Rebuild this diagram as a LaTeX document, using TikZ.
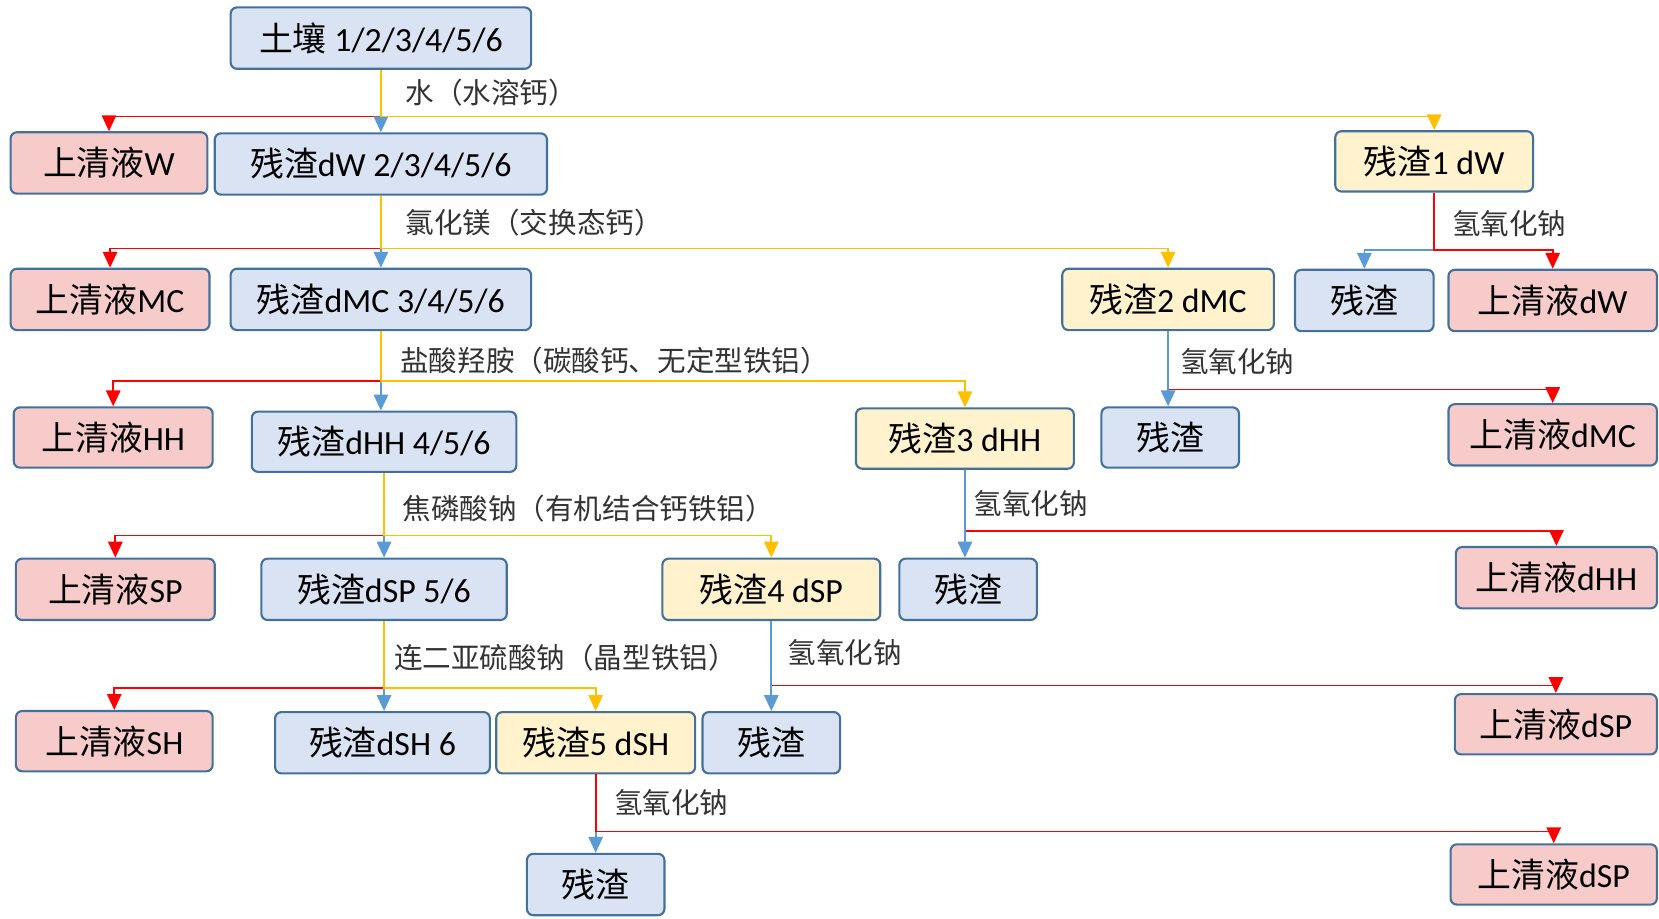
\documentclass[tikz,border=0pt]{standalone}
\usepackage{fontspec}
\setmainfont{Carlito}
\newfontfamily\cjkfont{Noto Sans CJK SC}
\newcommand\zhs[1]{{\cjkfont #1}}
\usetikzlibrary{arrows.meta}
\definecolor{bfill}{HTML}{DAE3F3}
\definecolor{pfill}{HTML}{F8CBCB}
\definecolor{yfill}{HTML}{FFF2CC}
\definecolor{bord}{HTML}{41719C}
\definecolor{lred}{HTML}{FF0000}
\definecolor{lblue}{HTML}{5B9BD5}
\definecolor{lyel}{HTML}{FFC000}
\definecolor{labtxt}{HTML}{333333}
\tikzset{
  boxbase/.style={draw=bord, line width=1pt, rounded corners=3pt, inner sep=0pt, align=center,
    font=\fontsize{16pt}{19pt}\selectfont, text=black},
  bbox/.style={boxbase, fill=bfill},
  pbox/.style={boxbase, fill=pfill},
  ybox/.style={boxbase, fill=yfill},
  redl/.style={draw=lred, line width=0.8pt, -{Triangle[width=6.8pt,length=7.5pt]}},
  bluel/.style={draw=lblue, line width=0.8pt, -{Triangle[width=6.8pt,length=7.5pt]}},
  yell/.style={draw=lyel, line width=0.8pt, -{Triangle[width=6.8pt,length=7.5pt]}},
  lab/.style={anchor=west, inner sep=0pt, text=labtxt, font=\fontsize{13.5pt}{16pt}\selectfont}
}
% box at (x1,y1)-(x2,y2) in image px (y downward)
\newcommand\mybox[7]{\node[#1, minimum width=#4*0.5pt-#2*0.5pt, minimum height=#5*0.5pt-#3*0.5pt] (#6) at ({(#2+#4)/2},{(#3+#5)/2}) {#7};}
\begin{document}
\begin{tikzpicture}[x=0.5pt,y=-0.5pt]
\useasboundingbox (0,0) rectangle (1568,868);
% row 0
\mybox{bbox}{218}{7}{502}{65}{soil}{\zhs{土壤} 1/2/3/4/5/6}
% row 1
\mybox{pbox}{10}{125}{196}{183}{sw}{\zhs{上清液}W}
\mybox{bbox}{203}{126}{517}{184}{rdw}{\zhs{残渣}dW 2/3/4/5/6}
\mybox{ybox}{1262}{124}{1449}{181}{r1}{\zhs{残渣}1 dW}
% row 2
\mybox{pbox}{10}{254}{198}{312}{smc}{\zhs{上清液}MC}
\mybox{bbox}{218}{254}{502}{312}{rdmc}{\zhs{残渣}dMC 3/4/5/6}
\mybox{ybox}{1004}{254}{1204}{312}{r2}{\zhs{残渣}2 dMC}
\mybox{bbox}{1224}{255}{1355}{313}{res1}{\zhs{残渣}}
\mybox{pbox}{1369}{255}{1566}{313}{sdw}{\zhs{上清液}dW}
% row 3
\mybox{pbox}{13}{385}{201}{442}{shh}{\zhs{上清液}HH}
\mybox{bbox}{238}{389}{488}{446}{rdhh}{\zhs{残渣}dHH 4/5/6}
\mybox{ybox}{809}{386}{1015}{443}{r3}{\zhs{残渣}3 dHH}
\mybox{bbox}{1041}{385}{1171}{442}{res2}{\zhs{残渣}}
\mybox{pbox}{1369}{382}{1566}{440}{sdmc}{\zhs{上清液}dMC}
% row 4
\mybox{pbox}{15}{528}{203}{586}{ssp}{\zhs{上清液}SP}
\mybox{bbox}{247}{528}{479}{586}{rdsp}{\zhs{残渣}dSP 5/6}
\mybox{ybox}{626}{528}{832}{586}{r4}{\zhs{残渣}4 dSP}
\mybox{bbox}{850}{528}{980}{586}{res3}{\zhs{残渣}}
\mybox{pbox}{1376}{517}{1566}{575}{sdhh}{\zhs{上清液}dHH}
% row 5
\mybox{pbox}{15}{672}{201}{729}{ssh}{\zhs{上清液}SH}
\mybox{bbox}{260}{673}{463}{731}{rdsh}{\zhs{残渣}dSH 6}
\mybox{ybox}{469}{673}{657}{731}{r5}{\zhs{残渣}5 dSH}
\mybox{bbox}{664}{673}{794}{731}{res4}{\zhs{残渣}}
\mybox{pbox}{1375}{656}{1566}{713}{sdsp}{\zhs{上清液}dSP}
% row 6
\mybox{bbox}{498}{807}{628}{865}{res5}{\zhs{残渣}}
\mybox{pbox}{1371}{798}{1566}{855}{sdsp2}{\zhs{上清液}dSP}

% split points
\coordinate (s1) at (soil.south |- 0,110);
\coordinate (s2) at (rdw.south |- 0,235);
\coordinate (s3) at (r1.south |- 0,236);
\coordinate (s4) at (rdmc.south |- 0,360);
\coordinate (s5) at (r2.south |- 0,368);
\coordinate (s6) at (rdhh.south |- 0,506);
\coordinate (s7) at (r3.south |- 0,502);
\coordinate (s8) at (rdsp.south |- 0,650);
\coordinate (s9) at (r4.south |- 0,648);
\coordinate (s10) at (r5.south |- 0,786);

% step 1
\draw[redl] (soil.south) -- (s1) -| (sw.north);
\draw[bluel] (soil.south) -- (s1) -- (s1 |- rdw.north);
\draw[yell] (soil.south) -- (s1) -| (r1.north);
\node[lab] (l1) at (383,88) {\zhs{水（水溶钙）}};
% step 2
\draw[redl] (rdw.south) -- (s2) -| (smc.north);
\draw[bluel] (rdw.south) -- (s2) -- (s2 |- rdmc.north);
\draw[yell] (rdw.south) -- (s2) -| (r2.north);
\node[lab] (l2) at (383,210) {\zhs{氯化镁（交换态钙）}};
% 1 dW NaOH
\draw[bluel] (r1.south) -- (s3) -| (res1.north);
\draw[redl] (r1.south) -- (s3) -| (sdw.north);
\node[lab] (l3) at (1372,211) {\zhs{氢氧化钠}};
% step 3
\draw[redl] (rdmc.south) -- (s4) -| (shh.north);
\draw[bluel] (rdmc.south) -- (s4) -- (s4 |- rdhh.north);
\draw[yell] (rdmc.south) -- (s4) -| (r3.north);
\node[lab] (l4) at (378,341) {\zhs{盐酸羟胺（碳酸钙、无定型铁铝）}};
% 2 dMC NaOH
\draw[redl] (r2.south) -- (s5) -| (sdmc.north);
\draw[bluel] (r2.south) -- (s5) -- (s5 |- res2.north);
\node[lab] (l5) at (1115,342) {\zhs{氢氧化钠}};
% step 4
\draw[redl] (rdhh.south) -- (s6) -| (ssp.north);
\draw[bluel] (rdhh.south) -- (s6) -- (s6 |- rdsp.north);
\draw[yell] (rdhh.south) -- (s6) -| (r4.north);
\node[lab] (l6) at (380,481) {\zhs{焦磷酸钠（有机结合钙铁铝）}};
% 3 dHH NaOH
\draw[redl] (r3.south) -- (s7) -| (sdhh.north);
\draw[bluel] (r3.south) -- (s7) -- (s7 |- res3.north);
\node[lab] (l7) at (920,476) {\zhs{氢氧化钠}};
% step 5
\draw[redl] (rdsp.south) -- (s8) -| (ssh.north);
\draw[bluel] (rdsp.south) -- (s8) -- (s8 |- rdsh.north);
\draw[yell] (rdsp.south) -- (s8) -| (r5.north);
\node[lab] (l8) at (372,622) {\zhs{连二亚硫酸钠（晶型铁铝）}};
% 4 dSP NaOH
\draw[redl] (r4.south) -- (s9) -| (sdsp.north);
\draw[bluel] (r4.south) -- (s9) -- (s9 |- res4.north);
\node[lab] (l9) at (744,617) {\zhs{氢氧化钠}};
% 5 dSH NaOH
\draw[bluel] (r5.south) -- (s10) -- (s10 |- res5.north);
\draw[redl] (r5.south) -- (s10) -| (sdsp2.north);
\node[lab] (l10) at (580,759) {\zhs{氢氧化钠}};
\end{tikzpicture}
\end{document}
